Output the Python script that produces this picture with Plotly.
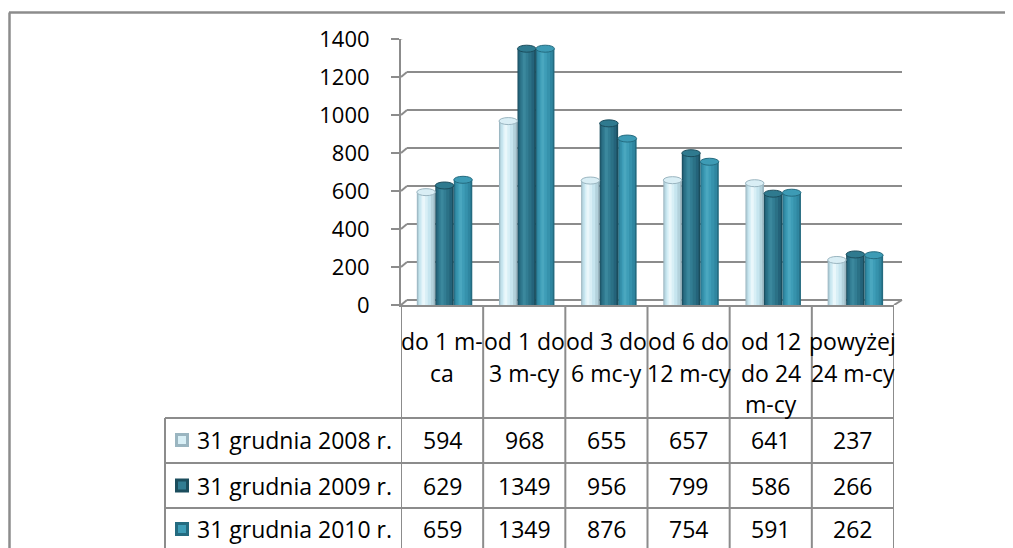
import plotly.graph_objects as go

# ---------------- data ----------------
categories = ["do 1 m-ca", "od 1 do 3 m-cy", "od 3 do 6 mc-y",
              "od 6 do 12 m-cy", "od 12 do 24 m-cy", "powyżej 24 m-cy"]
category_lines = [["do 1 m-", "ca"], ["od 1 do", "3 m-cy"], ["od 3 do", "6 mc-y"],
                  ["od 6 do", "12 m-cy"], ["od 12", "do 24", "m-cy"], ["powyżej", "24 m-cy"]]
series_names = ["31 grudnia 2008 r.", "31 grudnia 2009 r.", "31 grudnia 2010 r."]
values_2008 = [594, 968, 655, 657, 641, 237]
values_2009 = [629, 1349, 956, 799, 586, 266]
values_2010 = [659, 1349, 876, 754, 591, 262]
y_ticks = [0, 200, 400, 600, 800, 1000, 1200, 1400]

series_values = [values_2008, values_2009, values_2010]

# ---------------- styles ----------------
OFF = 8                      # page (body) margin offset
W, H = 1013 - OFF, 548 - OFF
FONT = "Open Sans"
FS_AX = 22
FS = 23
GRID = "#8c8c8c"

def px(x):
    return (x - OFF) / W

def py(y):
    return 1 - (y - OFF) / H

X0, X1 = 401, 894       # plot area left/right (screen pixels)
YB, YT = 305, 39        # value 0 / value 1400 (screen pixels)
DX, DY = 6, 5           # 3D depth shift (pixels)

# colour ramps per series: edge, dark, mid, light, highlight, cap
ramps = [
    ["#9ab5c0", "#b3d2dc", "#c6e5ef", "#d8eff6", "#eaf7fb", "#d9eef5"],
    ["#1b4d5d", "#24637a", "#2b7186", "#327d93", "#3b889d", "#2f7a8f"],
    ["#246b80", "#2f86a0", "#3692ac", "#3e9db7", "#4aa7bf", "#3d9bb5"],
]
layers = [  # width fraction, centre shift (fraction of bar width), ramp index
    (1.00, 0.00, 0),
    (0.86, -0.02, 1),
    (0.64, -0.06, 2),
    (0.38, -0.10, 3),
    (0.16, -0.13, 4),
]
BW = 0.225        # bar width (category units)
GC = 0.03         # group centre shift
CAT_PX = (X1 - X0) / len(categories)

fig = go.Figure()
shapes = []
annotations = []

xs = list(range(len(categories)))
for j, vals in enumerate(series_values):
    base = GC + (j - 1) * BW
    for wf, sh, ci in layers:
        w = wf * BW
        fig.add_trace(go.Bar(
            x=xs, y=vals, width=[w] * len(xs),
            offset=[base + sh * BW - w / 2] * len(xs),
            marker=dict(color=ramps[j][ci], line=dict(width=0)),
            showlegend=False, hoverinfo="skip"))
    # cylinder caps
    for i, v in enumerate(vals):
        shapes.append(dict(type="circle", xref="x", yref="y",
                           xsizemode="pixel", ysizemode="pixel",
                           xanchor=i + base, yanchor=v,
                           x0=-BW * CAT_PX / 2, x1=BW * CAT_PX / 2, y0=-3.5, y1=3.5,
                           fillcolor=ramps[j][5], line=dict(color=ramps[j][0], width=1),
                           layer="above"))

# 3D gridlines (back wall) with connectors
for v in y_ticks:
    shapes.append(dict(type="line", xref="paper", yref="y",
                       xsizemode="pixel", ysizemode="pixel",
                       xanchor=px(X0), yanchor=v, x0=DX, x1=X1 - X0 + 8, y0=DY, y1=DY,
                       line=dict(color=GRID, width=2), layer="below"))
    shapes.append(dict(type="line", xref="paper", yref="y",
                       xsizemode="pixel", ysizemode="pixel",
                       xanchor=px(X0), yanchor=v, x0=0, x1=DX, y0=0, y1=DY,
                       line=dict(color=GRID, width=2), layer="below"))
# floor right end
shapes.append(dict(type="line", xref="paper", yref="y",
                   xsizemode="pixel", ysizemode="pixel",
                   xanchor=px(X1), yanchor=0, x0=0, x1=8, y0=0, y1=DY,
                   line=dict(color=GRID, width=2)))

# data table lines
for k in range(len(categories) + 1):
    shapes.append(dict(type="line", xref="x", yref="paper",
                       x0=k - 0.5, x1=k - 0.5, y0=-0.05, y1=py(YB),
                       line=dict(color=GRID, width=2)))
row_lines = [418, 463, 508]
for y in row_lines:
    shapes.append(dict(type="line", xref="paper", yref="paper",
                       x0=px(165), x1=px(X1), y0=py(y), y1=py(y),
                       line=dict(color=GRID, width=2)))
shapes.append(dict(type="line", xref="paper", yref="paper",
                   x0=px(165), x1=px(165), y0=-0.05, y1=py(418),
                   line=dict(color=GRID, width=2)))

# outer chart frame
shapes.append(dict(type="line", xref="paper", yref="paper",
                   x0=px(9), x1=1.01, y0=py(12.5), y1=py(12.5),
                   line=dict(color=GRID, width=2.5)))
shapes.append(dict(type="line", xref="paper", yref="paper",
                   x0=px(9.5), x1=px(9.5), y0=-0.05, y1=py(12.5),
                   line=dict(color=GRID, width=2.5)))

# header (category) labels
for i, lines in enumerate(category_lines):
    for k, line in enumerate(lines):
        annotations.append(dict(x=i, xref="x", y=py(341 + 31.5 * k), yref="paper",
                                text=line, showarrow=False, xanchor="center",
                                yanchor="middle", font=dict(family=FONT, size=FS, color="#000")))

# value rows + legend keys
row_centres = [440, 485.5, 529]
for j, vals in enumerate(series_values):
    yc = row_centres[j]
    for i, v in enumerate(vals):
        annotations.append(dict(x=i, xref="x", y=py(yc), yref="paper", text=str(v),
                                showarrow=False, xanchor="center", yanchor="middle",
                                font=dict(family=FONT, size=FS, color="#000")))
    annotations.append(dict(x=px(195), xref="paper", y=py(yc), yref="paper",
                            text=series_names[j], showarrow=False, xanchor="left",
                            yanchor="middle", font=dict(family=FONT, size=FS, color="#000")))
    shapes.append(dict(type="rect", xref="paper", yref="paper",
                       x0=px(175), x1=px(189), y0=py(yc + 7), y1=py(yc - 7),
                       fillcolor=ramps[j][0], line=dict(width=0)))
    shapes.append(dict(type="rect", xref="paper", yref="paper",
                       x0=px(178), x1=px(186), y0=py(yc + 4), y1=py(yc - 4),
                       fillcolor=ramps[j][3], line=dict(width=0)))

fig.update_layout(
    width=W, height=H, margin=dict(l=0, r=0, t=0, b=0, pad=0),
    paper_bgcolor="white", plot_bgcolor="rgba(0,0,0,0)",
    barmode="overlay", showlegend=False,
    shapes=shapes, annotations=annotations,
    xaxis=dict(domain=[px(X0), px(X1)], range=[-0.5, 5.5], showticklabels=False,
               showgrid=False, zeroline=False, ticks="", showline=True, automargin=False,
               linecolor=GRID, linewidth=2, fixedrange=True),
    yaxis=dict(domain=[py(YB), py(YT)], range=[0, 1400], tickvals=y_ticks,
               showgrid=False, zeroline=False, showline=True, linecolor=GRID, linewidth=2,
               ticks="outside", ticklen=8, tickwidth=2, tickcolor=GRID, automargin=False,
               ticklabelstandoff=17,
               tickfont=dict(family=FONT, size=FS_AX, color="#000"), fixedrange=True),
)

fig.write_html("out.html")
